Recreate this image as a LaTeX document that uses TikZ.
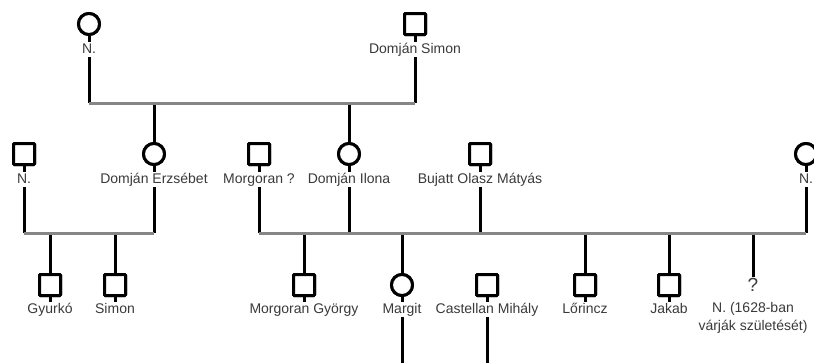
\documentclass[tikz,border=0pt]{standalone}
\usepackage{fontspec}
\setmainfont{Liberation Sans}
\definecolor{txt}{HTML}{3A3A3A}
\definecolor{barc}{HTML}{868686}
\begin{document}
\begin{tikzpicture}[x=1pt,y=-1pt,
  male/.style={draw=black,line width=3pt,minimum size=21pt,inner sep=0pt,rounded corners=1pt,fill=white},
  female/.style={draw=black,line width=3pt,circle,minimum size=21pt,inner sep=0pt,fill=white},
  lbl/.style={fill=white,inner sep=1pt,text=txt,font=\fontsize{14}{18}\selectfont,text height=10pt,text depth=3pt},
  link/.style={line width=3pt,black},
  bar/.style={line width=3pt,barc}]
\useasboundingbox[fill=white] (0,0) rectangle (814,362);
% generation 1
\node[female] (n1) at (89,24) {};
\node[lbl] (n1l) at (89,49.5) {N.};
\node[male] (ds) at (415,24) {};
\node[lbl] (dsl) at (415,49.5) {Domján Simon};
\coordinate (b1l) at (89,103);
\coordinate (b1r) at (415,103);
\coordinate (c1a) at (154,103);
\coordinate (c1b) at (349,103);
% generation 2
\node[male] (n2) at (24,154) {};
\node[lbl] (n2l) at (24,179.5) {N.};
\node[female] (de) at (154,154) {};
\node[lbl] (del) at (154,179.5) {Domján Erzsébet};
\node[male] (mo) at (259,154) {};
\node[lbl] (mol) at (259,179.5) {Morgoran ?};
\node[female] (di) at (349,154) {};
\node[lbl] (dil) at (349,179.5) {Domján Ilona};
\node[male] (bo) at (480,154) {};
\node[lbl] (bol) at (480,179.5) {Bujatt Olasz Mátyás};
\node[female] (n3) at (806,154) {};
\node[lbl] (n3l) at (806,179.5) {N.};
\coordinate (b2l) at (24,233);
\coordinate (b2r) at (154,233);
\coordinate (b3l) at (259,233);
\coordinate (b3r) at (806,233);
\coordinate (b3a) at (349,233);
\coordinate (b3b) at (480,233);
\foreach \x/\n in {50/ga,115/gb,304/gc,402/gd,585/ge,669/gf,753/gg}
  \coordinate (\n) at (\x,233);
% generation 3
\node[male] (gy) at (50,285) {};
\node[lbl] (gyl) at (50,309.5) {Gyurkó};
\node[male] (si) at (115,285) {};
\node[lbl] (sil) at (115,309.5) {Simon};
\node[male] (mg) at (304,285) {};
\node[lbl] (mgl) at (304,309.5) {Morgoran György};
\node[female] (ma) at (402,285) {};
\node[lbl] (mal) at (402,309.5) {Margit};
\node[male] (cm) at (487,285) {};
\node[lbl] (cml) at (487,309.5) {Castellan Mihály};
\node[male] (lo) at (585,285) {};
\node[lbl] (lol) at (585,309.5) {Lőrincz};
\node[male] (ja) at (669,285) {};
\node[lbl] (jal) at (669,309.5) {Jakab};
\node[text=txt,font=\fontsize{19}{19}\selectfont,inner sep=1pt] (qq) at (753,285) {?};
\node[lbl,align=center,anchor=north,text height=,text depth=] (qql) at (753,301) {N. (1628-ban\\várják születését)};
\coordinate (mad) at (402,370);
\coordinate (cmd) at (487,370);
% links from parents
\foreach \s/\l/\b in {n1/n1l/b1l,ds/dsl/b1r,n2/n2l/b2l,de/del/b2r,mo/mol/b3l,di/dil/b3a,bo/bol/b3b,n3/n3l/b3r}{
  \draw[link] (\s) -- (\l);
  \draw[link] (\l) -- (\b);
}
\foreach \s/\l in {gy/gyl,si/sil,mg/mgl,ma/mal,cm/cml,lo/lol,ja/jal}
  \draw[link] (\s) -- (\l);
% children drops
\draw[link] (c1a) -- (de);
\draw[link] (c1b) -- (di);
\draw[link] (ga) -- (gy);
\draw[link] (gb) -- (si);
\draw[link] (gc) -- (mg);
\draw[link] (gd) -- (ma);
\draw[link] (ge) -- (lo);
\draw[link] (gf) -- (ja);
\draw[link] (gg) -- (qq);
\draw[link] (mal) -- (mad);
\draw[link] (cml) -- (cmd);
% bars
\draw[bar] (b1l) -- (b1r);
\draw[bar] (b2l) -- (b2r);
\draw[bar] (b3l) -- (b3r);
% redraw symbols on top
\foreach \s in {n1,de,di,n3,ma}{\node[female] at (\s) {};}
\foreach \s in {ds,n2,mo,bo,gy,si,mg,cm,lo,ja}{\node[male] at (\s) {};}
\end{tikzpicture}
\end{document}
